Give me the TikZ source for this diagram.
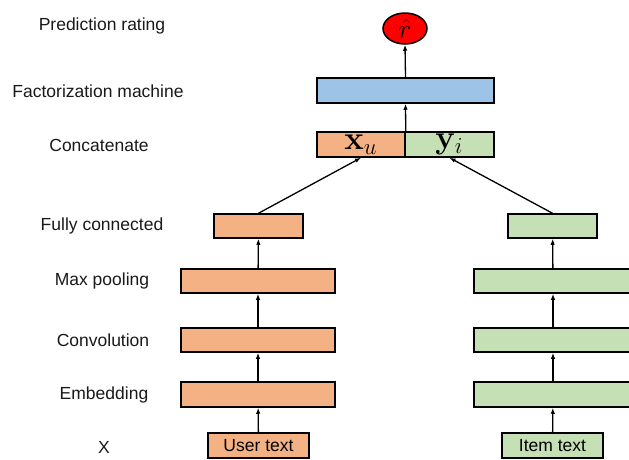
\documentclass[tikz,border=0pt]{standalone}
\usepackage{amsmath}
\usepackage{graphicx}
\usepackage[no-math]{fontspec}
\setmainfont{Liberation Sans}
\usetikzlibrary{shapes.geometric,arrows.meta}
\definecolor{userfill}{RGB}{244,177,131}
\definecolor{itemfill}{RGB}{197,224,180}
\definecolor{fmfill}{RGB}{157,195,230}
\newcommand{\bigmath}[2][1.9]{\scalebox{#1}{$#2$}}
\begin{document}
\begin{tikzpicture}[x=1pt, y=-1pt,
      every node/.append style={font=\fontsize{17.5}{20}\selectfont},
      up/.style={-{Latex[length=6pt,width=4.5pt]}, line width=1.3pt},
      layer/.style={draw=black, line width=1.5pt, minimum height=25pt, inner sep=0pt}]
    \tikzstyle{label} = [inner sep=0pt, color=black!90]
    \tikzstyle{user} = [layer, fill=userfill]
    \tikzstyle{item} = [layer, fill=itemfill]
    \useasboundingbox (0,0) rectangle (629,459);
    \clip (0,0) rectangle (629,459);
    % row labels
    \node (Lpred) [label] at (102,26) {Prediction rating};
    \node (Lfm) [label] at (98,91) {Factorization machine};
    \node (Lcat) [label] at (99,145) {Concatenate};
    \node (Lfc) [label] at (102,226) {Fully connected};
    \node (Lmp) [label] at (102,281) {Max pooling};
    \node (Lconv) [label] at (103,340) {Convolution};
    \node (Lemb) [label] at (104,395) {Embedding};
    \node (Lx) [label] at (104,447) {X};
    % top
    \node (pred) [ellipse, draw=black, line width=1.5pt, fill=red, minimum width=44pt, minimum height=31pt, inner sep=0pt] at (405,28.5) {\bigmath[1.6]{\hat{r}}};
    \node (fm) [layer, fill=fmfill, minimum width=177pt] at (405.5,90.5) {};
    \node (xu) [user, minimum width=88pt] at (361,144.5) {\bigmath{\mathbf{x}_u}};
    \node (yi) [item, minimum width=89pt] at (449.5,144.5) {\bigmath{\mathbf{y}_i}};
    % user side
    \node (ufc) [user, minimum width=89pt, minimum height=24pt] at (258.5,226) {};
    \node (ump) [user, minimum width=154pt, minimum height=24pt] at (258,281) {};
    \node (uconv) [user, minimum width=154pt, minimum height=24pt] at (258,340) {};
    \node (uemb) [user, minimum width=154pt] at (258,394.5) {};
    \node (utext) [user, minimum width=101pt, inner sep=2pt] at (258.5,445.5) {User text};
    % item side
    \node (ifc) [item, minimum width=89pt, minimum height=24pt] at (552.5,226) {};
    \node (imp) [item, minimum width=158pt, minimum height=24pt] at (553,281) {};
    \node (iconv) [item, minimum width=158pt, minimum height=24pt] at (553,340) {};
    \node (iemb) [item, minimum width=158pt] at (553,394.5) {};
    \node (itext) [item, minimum width=101pt, inner sep=2pt] at (552.5,445.5) {Item text};
    % connections
    \draw[up] (utext) -- (uemb);
    \draw[up] (uemb) -- (uconv);
    \draw[up] (uconv) -- (ump);
    \draw[up] (ump) -- (ufc);
    \draw[up] (itext) -- (iemb);
    \draw[up] (iemb) -- (iconv);
    \draw[up] (iconv) -- (imp);
    \draw[up] (imp) -- (ifc);
    \draw[up] (ufc.north) -- (xu.south);
    \draw[up] (ifc.north) -- (yi.south);
    \draw[up] (xu.north east) -- (fm.south);
    \draw[up] (fm.north) -- (pred.south);
  \end{tikzpicture}
\end{document}
